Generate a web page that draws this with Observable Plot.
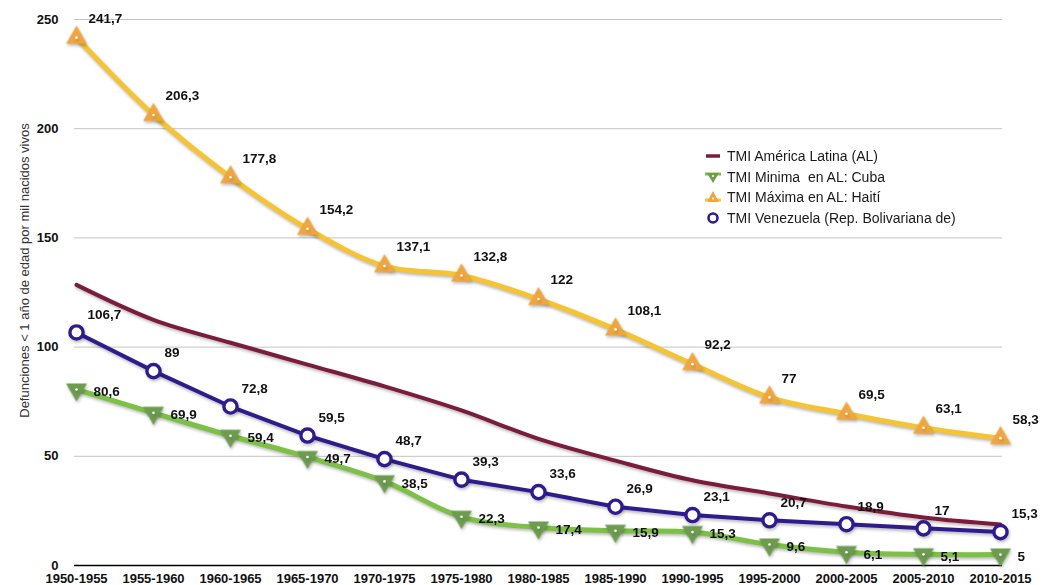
<!DOCTYPE html>
<html>
<head>
<meta charset="utf-8">
<script src="https://cdn.jsdelivr.net/npm/d3@7"></script>
<script src="https://cdn.jsdelivr.net/npm/@observablehq/plot@0.6"></script>
<style>
  html, body { margin: 0; padding: 0; background: #fff; }
  #wrap { position: relative; width: 1043px; height: 585px; font-family: "Liberation Sans", Arial, sans-serif; }
  #wrap svg g[aria-label="line"] path { filter: drop-shadow(1px 2px 1.5px rgba(0,0,0,0.28)); }
  #wrap svg g[aria-label="dot"] { filter: drop-shadow(1px 2px 1.5px rgba(0,0,0,0.25)); }
  #legend { position: absolute; left: 703px; top: 146px; font-size: 14px; color: #1a1a1a; line-height: 20.5px; }
  #legend .row { display: flex; align-items: center; height: 20.5px; white-space: pre; }
  #legend svg { width: 20px; height: 16px; margin-right: 4px; }
</style>
</head>
<body>
<div id="wrap"></div>
<script>
// ---- Data ----
const periods = ["1950-1955","1955-1960","1960-1965","1965-1970","1970-1975","1975-1980","1980-1985","1985-1990","1990-1995","1995-2000","2000-2005","2005-2010","2010-2015"];
const latinAmerica = [128.5, 112.5, 102, 92, 82, 71, 58, 48, 39, 33, 27, 22, 18.8];
const cuba = [80.6, 69.9, 59.4, 49.7, 38.5, 22.3, 17.4, 15.9, 15.3, 9.6, 6.1, 5.1, 5];
const haiti = [241.7, 206.3, 177.8, 154.2, 137.1, 132.8, 122, 108.1, 92.2, 77, 69.5, 63.1, 58.3];
const venezuela = [106.7, 89, 72.8, 59.5, 48.7, 39.3, 33.6, 26.9, 23.1, 20.7, 18.9, 17, 15.3];
const yTicks = [0, 50, 100, 150, 200, 250];
const seriesNames = ["TMI América Latina (AL)", "TMI Minima  en AL: Cuba", "TMI Máxima en AL: Haití", "TMI Venezuela (Rep. Bolivariana de)"];
const yTitle = "Defunciones < 1 año de edad por mil nacidos vivos";

const colors = {
  latam: "#7b1c3d",
  cubaLine: "#7cc045",
  cubaMark: "#6d9c4f",
  haitiLine: "#f6c332",
  haitiMark: "#eea640",
  ven: "#2f1b8e"
};

const rows = (vals) => periods.map((p, i) => ({period: p, value: vals[i]}));
const fmt = (d) => String(d.value).replace(".", ",");

const latamRows = rows(latinAmerica);
const cubaRows = rows(cuba);
const haitiRows = rows(haiti);
const venRows = rows(venezuela);

const chart = Plot.plot({
  width: 1043,
  height: 585,
  marginLeft: 74,
  marginRight: 41,
  marginTop: 19,
  marginBottom: 20,
  style: {fontFamily: "'Liberation Sans', Arial, sans-serif", overflow: "visible", background: "transparent"},
  x: {type: "point", domain: periods, padding: 0},
  y: {domain: [0, 250]},
  marks: [
    Plot.gridY(yTicks.filter(t => t > 0), {stroke: "#c4c4c4", strokeOpacity: 1, strokeWidth: 1}),
    Plot.ruleY([0], {stroke: "#000", strokeWidth: 1.5}),
    Plot.axisY(yTicks, {tickSize: 0, tickPadding: 16, fontWeight: "bold", fontSize: 13, fill: "#111", label: null}),
    Plot.text([yTitle], {frameAnchor: "left", rotate: -90, dx: -50, dy: -22, textAnchor: "middle", fontSize: 13, fill: "#333"}),
    Plot.axisX({tickSize: 0, tickPadding: 8, fontWeight: "bold", fontSize: 13, fill: "#111", label: null}),
    // América Latina
    Plot.line(latamRows, {x: "period", y: "value", stroke: colors.latam, strokeWidth: 4, curve: "catmull-rom"}),
    // Cuba
    Plot.line(cubaRows, {x: "period", y: "value", stroke: colors.cubaLine, strokeWidth: 5, curve: "catmull-rom"}),
    Plot.dot(cubaRows, {x: "period", y: "value", symbol: "triangle", rotate: 180, r: 7.8, fill: colors.cubaMark, stroke: "none"}),
    Plot.dot(cubaRows, {x: "period", y: "value", r: 1.3, fill: "#fff", stroke: "none"}),
    // Venezuela
    Plot.line(venRows, {x: "period", y: "value", stroke: colors.ven, strokeWidth: 4}),
    Plot.dot(venRows, {x: "period", y: "value", r: 6.6, fill: "#fff", stroke: colors.ven, strokeWidth: 3.4}),
    // Haití
    Plot.line(haitiRows, {x: "period", y: "value", stroke: colors.haitiLine, strokeWidth: 5, curve: "catmull-rom"}),
    Plot.dot(haitiRows, {x: "period", y: "value", symbol: "triangle", r: 7.8, fill: colors.haitiMark, stroke: "none"}),
    Plot.dot(haitiRows, {x: "period", y: "value", r: 1.3, fill: "#fff", stroke: "none"}),
    // Value labels
    Plot.text(haitiRows, {x: "period", y: "value", text: fmt, textAnchor: "start", dx: 12, dy: -19, fontWeight: "bold", fontSize: 13.5, fill: "#111"}),
    Plot.text(venRows, {x: "period", y: "value", text: fmt, textAnchor: "start", dx: 11, dy: -18, fontWeight: "bold", fontSize: 13.5, fill: "#111"}),
    Plot.text(cubaRows, {x: "period", y: "value", text: fmt, textAnchor: "start", dx: 17, dy: 2, fontWeight: "bold", fontSize: 13.5, fill: "#111"})
  ]
});

const wrap = document.getElementById("wrap");
wrap.appendChild(chart);

// Legend (HTML overlay)
const legend = document.createElement("div");
legend.id = "legend";
const swatches = [
  `<svg viewBox="-10 -8 20 16"><line x1="-7" x2="7" y1="0" y2="0" stroke="${colors.latam}" stroke-width="3.5"/></svg>`,
  `<svg viewBox="-10 -8 20 16"><line x1="-8" x2="8" y1="-3" y2="-3" stroke="${colors.cubaLine}" stroke-width="3"/><path d="M-6,-4 L6,-4 L0,6 Z" fill="${colors.cubaMark}"/><circle r="1" cy="-1" fill="#fff"/></svg>`,
  `<svg viewBox="-10 -8 20 16"><line x1="-8" x2="8" y1="3" y2="3" stroke="${colors.haitiLine}" stroke-width="3"/><path d="M-6,5 L6,5 L0,-6 Z" fill="${colors.haitiMark}"/><circle r="1" cy="1.5" fill="#fff"/></svg>`,
  `<svg viewBox="-10 -8 20 16"><circle r="4.5" fill="#fff" stroke="${colors.ven}" stroke-width="2.6"/></svg>`
];
seriesNames.forEach((name, i) => {
  const row = document.createElement("div");
  row.className = "row";
  row.innerHTML = swatches[i] + `<span>${name}</span>`;
  legend.appendChild(row);
});
wrap.appendChild(legend);
</script>
</body>
</html>
